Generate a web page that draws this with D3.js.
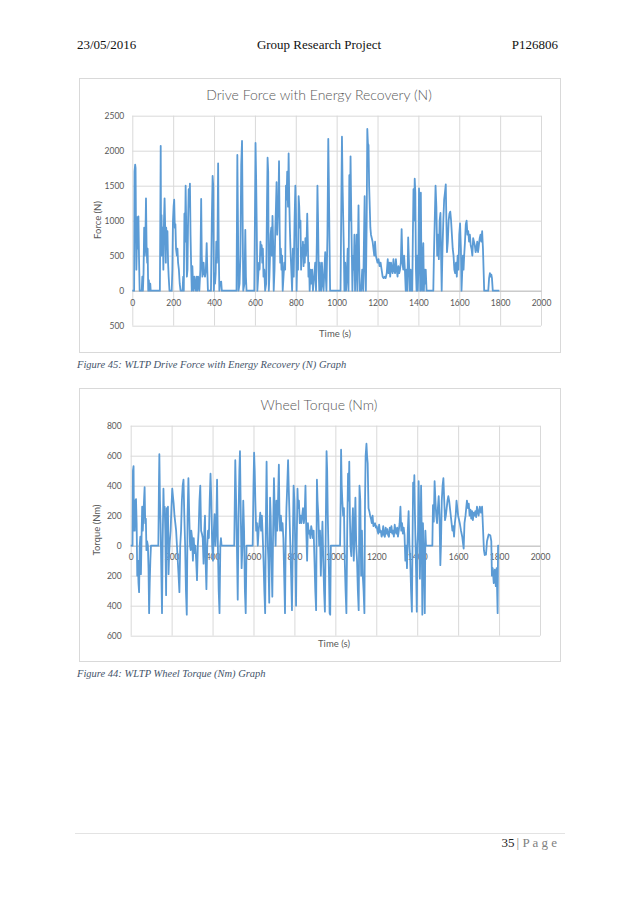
<!DOCTYPE html>
<html><head><meta charset="utf-8">
<script src="https://cdn.jsdelivr.net/npm/d3@7"></script>
<style>
html,body{margin:0;padding:0;background:#fff;}
svg{display:block;}
</style>
</head><body>
<svg id="page" width="638" height="903"></svg>
<script>
// ---------- data ----------
const headerLeft = "23/05/2016", headerCenter = "Group Research Project", headerRight = "P126806";
const title1 = "Drive Force with Energy Recovery (N)";
const title2 = "Wheel Torque (Nm)";
const xTitle = "Time (s)";
const yTitle1 = "Force (N)", yTitle2 = "Torque (Nm)";
const caption1 = "Figure 45: WLTP Drive Force with Energy Recovery (N) Graph";
const caption2 = "Figure 44: WLTP Wheel Torque (Nm) Graph";
const pageNum = "35", pageWord = "| P a g e";

const xTicks = [0,200,400,600,800,1000,1200,1400,1600,1800,2000];
const yTicks1 = [2500,2000,1500,1000,500,0,-500];
const yTicks2 = [800,600,400,200,0,-200,-400,-600];

// [time (s), force (N)]
const forcePoints = [[0,0],[9,0],[11,1700],[14,1800],[16,1750],[18,900],[20,300],[22,600],[24,1050],[27,600],[30,1060],[33,450],[36,0],[46,0],[49,200],[52,0],[55,250],[58,900],[61,500],[64,700],[67,1320],[70,600],[73,400],[75,600],[78,0],[81,150],[84,0],[88,100],[90,0],[135,0],[139,2070],[141,500],[143,1080],[146,500],[149,900],[152,300],[155,1000],[158,1320],[161,900],[164,400],[166,900],[169,600],[172,850],[175,400],[178,200],[182,0],[193,0],[196,300],[199,1000],[202,1200],[205,1300],[208,900],[211,950],[214,600],[218,500],[221,600],[224,400],[228,300],[232,100],[236,0],[246,0],[249,200],[252,0],[255,1100],[258,700],[261,1500],[264,900],[267,200],[270,300],[273,1000],[276,1450],[279,1200],[282,1530],[285,800],[288,350],[291,0],[294,350],[297,100],[300,0],[304,200],[307,100],[311,0],[315,200],[318,0],[322,200],[325,100],[328,0],[333,300],[337,1310],[340,500],[343,200],[346,300],[349,400],[352,250],[356,200],[360,300],[364,680],[367,300],[370,0],[385,0],[389,1000],[393,1640],[396,1500],[399,0],[402,250],[405,100],[408,250],[411,700],[414,400],[417,700],[420,1820],[423,600],[426,0],[429,130],[432,100],[435,130],[438,0],[510,0],[514,1940],[517,1000],[520,0],[525,100],[529,500],[533,1800],[537,2140],[540,1000],[543,0],[549,100],[553,870],[556,200],[559,0],[597,0],[600,1000],[603,2110],[606,1600],[609,900],[612,0],[616,200],[620,400],[623,300],[627,700],[630,500],[633,650],[636,400],[639,600],[642,200],[646,300],[650,0],[655,100],[659,1200],[662,1900],[665,1700],[668,0],[671,200],[674,500],[677,800],[680,900],[683,500],[686,1070],[689,700],[692,0],[696,300],[700,900],[703,1200],[706,1550],[709,800],[712,1100],[715,1200],[718,1850],[721,900],[724,400],[727,600],[730,300],[733,500],[736,0],[740,200],[744,400],[748,300],[752,1500],[755,1300],[758,1700],[762,1200],[765,1960],[768,1300],[771,900],[774,600],[778,300],[782,0],[786,600],[790,200],[794,1000],[798,1500],[801,1100],[804,0],[808,600],[811,300],[814,1350],[817,1200],[820,900],[823,1000],[826,300],[829,600],[832,500],[835,700],[838,350],[841,650],[844,400],[847,750],[850,500],[853,700],[856,1100],[859,700],[862,200],[865,400],[868,0],[872,300],[876,100],[880,300],[884,0],[890,200],[895,400],[899,0],[903,700],[906,1500],[909,1000],[912,300],[915,0],[918,400],[921,200],[924,0],[928,400],[932,100],[936,0],[940,300],[944,550],[947,200],[950,0],[955,800],[959,2170],[962,1500],[965,700],[968,0],[1019,0],[1023,1300],[1026,2200],[1029,1500],[1032,1050],[1035,600],[1038,0],[1042,400],[1046,0],[1050,200],[1054,600],[1058,0],[1062,1650],[1065,1000],[1068,1920],[1071,1200],[1074,600],[1077,0],[1081,500],[1084,300],[1087,800],[1090,0],[1094,400],[1098,800],[1101,0],[1104,600],[1107,1220],[1110,500],[1113,0],[1120,0],[1125,300],[1130,0],[1134,800],[1137,1350],[1140,300],[1143,0],[1147,1000],[1150,2310],[1153,2100],[1156,2080],[1159,1500],[1162,1200],[1165,900],[1168,800],[1172,750],[1176,700],[1180,600],[1184,500],[1188,700],[1192,500],[1196,450],[1200,400],[1205,450],[1210,350],[1215,400],[1220,300],[1225,200],[1230,180],[1235,200],[1240,180],[1245,250],[1250,450],[1254,250],[1258,400],[1262,200],[1266,400],[1270,300],[1274,250],[1278,450],[1282,300],[1286,250],[1290,450],[1294,300],[1298,200],[1302,350],[1306,250],[1310,300],[1314,400],[1318,880],[1322,400],[1326,300],[1330,500],[1334,300],[1338,0],[1342,300],[1346,0],[1350,760],[1354,400],[1358,0],[1362,300],[1366,0],[1370,0],[1373,800],[1376,1450],[1379,1000],[1382,1600],[1385,1400],[1388,300],[1391,0],[1394,500],[1397,0],[1400,300],[1403,1460],[1406,1000],[1409,0],[1412,1400],[1415,300],[1418,0],[1421,500],[1424,680],[1427,0],[1430,300],[1433,100],[1436,300],[1440,0],[1473,0],[1476,500],[1480,1000],[1484,1500],[1488,1200],[1492,500],[1496,800],[1500,450],[1504,1000],[1508,1110],[1511,500],[1514,0],[1518,600],[1522,1000],[1526,1300],[1530,1400],[1534,1520],[1537,1000],[1540,550],[1544,700],[1548,1000],[1552,1100],[1556,1130],[1560,1000],[1564,800],[1568,600],[1572,500],[1576,300],[1580,250],[1584,400],[1588,200],[1592,500],[1596,300],[1600,800],[1604,960],[1608,600],[1611,0],[1615,300],[1618,500],[1621,300],[1624,500],[1628,700],[1632,950],[1636,1000],[1640,800],[1644,850],[1648,700],[1652,800],[1656,650],[1660,600],[1664,500],[1668,750],[1672,700],[1676,650],[1680,550],[1684,600],[1688,700],[1692,550],[1696,650],[1700,750],[1704,800],[1708,700],[1712,850],[1716,600],[1722,0],[1742,0],[1746,180],[1750,250],[1754,200],[1757,230],[1760,180],[1764,0],[1796,0]];

// [time (s), torque (Nm)]
const torquePoints = [[0,0],[9,0],[11,500],[14,530],[16,100],[18,300],[20,100],[23,300],[26,310],[29,150],[32,-200],[35,-100],[38,-250],[41,-310],[44,0],[47,60],[50,-190],[53,50],[56,260],[59,100],[62,200],[65,300],[68,390],[71,150],[74,180],[77,-30],[80,30],[84,0],[87,-150],[90,-450],[93,-250],[96,-100],[99,0],[135,0],[138,400],[140,610],[143,300],[146,150],[150,-200],[153,-450],[156,0],[160,380],[163,200],[166,260],[169,100],[173,-330],[176,250],[179,200],[182,260],[185,-190],[188,-50],[191,30],[195,100],[199,250],[203,380],[207,320],[210,280],[214,200],[218,150],[222,100],[226,0],[230,-100],[234,-200],[238,-310],[242,0],[246,100],[250,300],[254,400],[258,440],[262,200],[266,0],[270,-300],[274,-460],[278,200],[282,450],[286,200],[290,0],[293,-30],[296,100],[300,50],[304,-100],[308,50],[312,-50],[316,0],[320,-100],[324,-230],[328,0],[332,100],[336,300],[340,400],[344,100],[348,80],[352,50],[356,-120],[360,100],[363,200],[366,-100],[370,-290],[374,0],[378,100],[382,50],[386,300],[390,480],[394,300],[398,0],[402,-100],[406,100],[410,210],[414,0],[418,100],[422,440],[426,0],[430,-300],[434,-450],[438,0],[441,50],[444,0],[506,0],[511,570],[515,300],[519,0],[523,-360],[527,200],[531,500],[534,630],[538,200],[542,-150],[546,0],[550,300],[554,100],[558,-300],[562,-450],[566,0],[596,0],[600,400],[603,620],[606,500],[609,300],[613,100],[617,150],[621,0],[625,100],[629,150],[633,220],[637,100],[641,200],[645,70],[649,-100],[653,-300],[657,-450],[660,100],[664,560],[667,200],[670,0],[673,-100],[677,-380],[681,320],[684,200],[688,-100],[692,-340],[696,100],[700,450],[704,200],[708,0],[712,300],[716,100],[720,300],[724,540],[727,200],[730,100],[734,200],[738,100],[742,150],[746,50],[750,-200],[754,-450],[757,0],[761,250],[765,400],[769,570],[772,400],[776,200],[780,0],[784,-200],[788,-430],[792,0],[796,400],[800,300],[804,0],[808,-400],[811,0],[815,380],[818,250],[822,300],[826,150],[830,200],[834,150],[838,200],[842,250],[846,150],[850,200],[854,400],[858,100],[862,-100],[866,150],[870,80],[874,100],[878,50],[882,130],[886,100],[890,50],[894,100],[898,-100],[902,-300],[906,-430],[910,440],[913,300],[917,200],[921,0],[925,100],[929,-200],[933,0],[937,160],[941,-100],[945,-300],[949,-440],[953,100],[957,630],[960,500],[963,200],[966,0],[969,-200],[972,-450],[975,-460],[978,0],[1023,0],[1026,300],[1028,640],[1031,400],[1034,300],[1038,200],[1042,250],[1046,-100],[1050,-300],[1054,-450],[1058,100],[1062,480],[1065,300],[1068,560],[1071,200],[1074,0],[1078,-70],[1082,100],[1086,250],[1090,-100],[1094,100],[1098,320],[1102,0],[1106,-100],[1110,-300],[1114,-430],[1118,400],[1122,300],[1126,-200],[1130,100],[1134,-200],[1138,-300],[1142,-450],[1145,300],[1148,600],[1152,680],[1155,600],[1158,550],[1162,250],[1166,230],[1170,200],[1174,180],[1178,150],[1182,200],[1186,130],[1190,140],[1194,150],[1198,120],[1202,130],[1206,100],[1210,80],[1214,140],[1218,90],[1222,100],[1226,60],[1230,80],[1234,130],[1238,70],[1242,60],[1246,120],[1250,80],[1254,110],[1258,70],[1262,60],[1266,120],[1270,90],[1274,130],[1278,80],[1282,100],[1286,60],[1290,140],[1294,100],[1298,80],[1302,120],[1306,60],[1310,100],[1314,150],[1318,260],[1322,100],[1326,150],[1330,80],[1334,120],[1338,70],[1342,-100],[1346,0],[1350,-150],[1354,100],[1358,230],[1362,0],[1366,-100],[1370,-300],[1374,-440],[1377,0],[1380,420],[1383,300],[1386,470],[1389,200],[1392,0],[1395,-200],[1398,-440],[1401,0],[1404,100],[1407,430],[1410,200],[1413,-220],[1416,0],[1419,400],[1422,100],[1425,-460],[1428,150],[1431,0],[1434,-200],[1437,-450],[1440,100],[1443,0],[1474,0],[1477,270],[1481,160],[1485,430],[1489,300],[1493,200],[1497,150],[1501,250],[1505,330],[1509,200],[1513,-130],[1516,0],[1520,300],[1524,400],[1528,450],[1532,300],[1536,170],[1540,200],[1544,250],[1548,300],[1552,330],[1556,300],[1560,250],[1564,200],[1568,150],[1572,100],[1576,130],[1580,60],[1584,150],[1588,200],[1592,300],[1596,250],[1600,200],[1608,150],[1614,100],[1620,60],[1627,-20],[1631,150],[1636,200],[1643,300],[1648,250],[1652,280],[1656,200],[1660,240],[1664,180],[1668,230],[1672,170],[1676,220],[1680,200],[1684,230],[1688,190],[1692,260],[1700,200],[1706,260],[1712,220],[1717,260],[1722,100],[1726,-30],[1730,-62],[1736,-60],[1741,30],[1749,75],[1757,70],[1762,30],[1765,-200],[1769,-150],[1774,-250],[1779,-160],[1784,-270],[1788,-150],[1793,-450],[1795,0],[1800,0]];

// ---------- drawing ----------
const svg = d3.select("#page");
const serif = "'Liberation Serif','Times New Roman',serif";
const sans = "Lato,'Open Sans',sans-serif";
const gridColor = "#d9d9d9", textColor = "#595959", lineColor = "#5b9bd5";

// header
svg.append("text").attr("x",77).attr("y",49).attr("font-family",serif).attr("font-size",13).attr("fill","#111").text(headerLeft);
svg.append("text").attr("x",319).attr("y",49).attr("text-anchor","middle").attr("font-family",serif).attr("font-size",13).attr("fill","#111").text(headerCenter);
svg.append("text").attr("x",558).attr("y",49).attr("text-anchor","end").attr("font-family",serif).attr("font-size",13).attr("fill","#111").text(headerRight);

function drawChart(cfg){
  const g = svg.append("g");
  g.append("rect").attr("x",cfg.box[0]+0.5).attr("y",cfg.box[1]+0.5).attr("width",cfg.box[2]).attr("height",cfg.box[3])
    .attr("fill","#fff").attr("stroke",gridColor).attr("stroke-width",1);
  const x = d3.scaleLinear().domain([0,2000]).range(cfg.xr);
  const y = d3.scaleLinear().domain([cfg.yTicks[cfg.yTicks.length-1], cfg.yTicks[0]]).range(cfg.yr);

  const hg = g.append("g").attr("transform",`translate(${cfg.xr[0]},0)`)
    .call(d3.axisLeft(y).tickValues(cfg.yTicks).tickSize(-(cfg.xr[1]-cfg.xr[0])).tickFormat(""));
  hg.select(".domain").remove();
  hg.selectAll("line").attr("stroke",gridColor).attr("stroke-width",1);
  const vg = g.append("g").attr("transform",`translate(0,${cfg.yr[1]})`)
    .call(d3.axisBottom(x).tickValues(xTicks).tickSize(cfg.yr[0]-cfg.yr[1]).tickFormat(""));
  vg.select(".domain").remove();
  vg.selectAll("line").attr("stroke",gridColor).attr("stroke-width",1);

  const ya = g.append("g").attr("transform",`translate(${cfg.xr[0]},0)`)
    .call(d3.axisLeft(y).tickValues(cfg.yTicks).tickSize(0).tickPadding(cfg.ypad).tickFormat(d=>String(Math.abs(d))));
  ya.select(".domain").remove();
  ya.selectAll("text").attr("font-family",sans).attr("font-size",8.5).attr("fill",textColor);

  const xa = g.append("g").attr("transform",`translate(0,${y(0)})`)
    .call(d3.axisBottom(x).tickValues(xTicks).tickSize(0).tickPadding(cfg.xpad).tickFormat(d=>String(d)));
  xa.select(".domain").attr("stroke","#bfbfbf").attr("stroke-width",1);
  xa.selectAll("text").attr("font-family",sans).attr("font-size",8.5).attr("fill",textColor);

  const line = d3.line().x(d=>x(d[0])).y(d=>y(d[1]));
  g.append("path").datum(cfg.data).attr("d",line).attr("fill","none")
    .attr("stroke",lineColor).attr("stroke-width",1.8).attr("stroke-linejoin","round");

  g.append("text").attr("x",cfg.titlePos[0]).attr("y",cfg.titlePos[1]).attr("text-anchor","middle")
    .attr("font-family",sans).attr("font-weight",300).attr("font-size",14).attr("fill",textColor).text(cfg.title);
  g.append("text").attr("x",cfg.xTitlePos[0]).attr("y",cfg.xTitlePos[1]).attr("text-anchor","middle")
    .attr("font-family",sans).attr("font-size",9.5).attr("fill",textColor).text(xTitle);
  g.append("text").attr("transform",`translate(${cfg.yTitlePos[0]},${cfg.yTitlePos[1]}) rotate(-90)`).attr("text-anchor","middle")
    .attr("font-family",sans).attr("font-size",9.5).attr("fill",textColor).text(cfg.yTitle);
}

drawChart({box:[79,78,481,274], xr:[132.3,541], yr:[325.7,115.7], yTicks:yTicks1, data:forcePoints,
  title:title1, titlePos:[319,100], xTitlePos:[335,337], yTitle:yTitle1, yTitlePos:[101,220], ypad:8, xpad:9});
drawChart({box:[79,388,481,273], xr:[130.7,540], yr:[635.7,425.7], yTicks:yTicks2, data:torquePoints,
  title:title2, titlePos:[319,410], xTitlePos:[334,647], yTitle:yTitle2, yTitlePos:[100,530], ypad:9, xpad:8});

const capColor = "#44546a";
svg.append("text").attr("x",77).attr("y",368).attr("font-family",serif).attr("font-style","italic").attr("font-size",10.5).attr("fill",capColor).text(caption1);
svg.append("text").attr("x",77).attr("y",677).attr("font-family",serif).attr("font-style","italic").attr("font-size",10.5).attr("fill",capColor).text(caption2);

svg.append("line").attr("x1",75).attr("x2",565).attr("y1",833.5).attr("y2",833.5).attr("stroke","#e3e3e3").attr("stroke-width",1);
const ft = svg.append("text").attr("x",557).attr("y",847).attr("text-anchor","end").attr("font-family",serif).attr("font-size",13);
ft.append("tspan").attr("fill","#222").text(pageNum);
ft.append("tspan").attr("fill","#7f7f7f").attr("dx",2).text(pageWord);
</script>
</body></html>
